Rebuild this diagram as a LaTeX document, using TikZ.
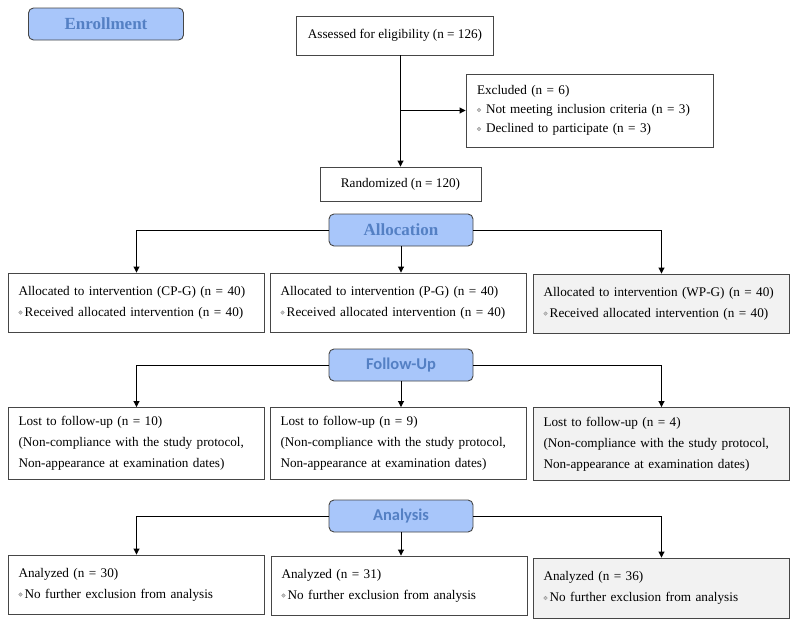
\documentclass[tikz,border=0pt]{standalone}
\usepackage{fontspec}
\setmainfont{Liberation Serif}
\newfontfamily\hdsans{Carlito}
\usetikzlibrary{arrows.meta,calc}
\definecolor{hdfill}{RGB}{168,198,250}
\definecolor{hdtext}{RGB}{84,128,196}
\definecolor{boxline}{RGB}{70,70,70}
\definecolor{grayfill}{RGB}{242,242,242}
\newcommand\bul{\tikz[baseline=-3.6pt]\draw[gray!80,fill=gray!45,line width=0.4pt] (0,0) circle (1.8pt);}
\tikzset{
  hdr/.style={draw=boxline, fill=hdfill, rounded corners=5pt, line width=0.9pt,
    minimum width=144pt, minimum height=32pt, inner sep=0pt, text=hdtext},
  hdserif/.style={hdr, font=\fontsize{17}{20}\selectfont\bfseries},
  hdsansf/.style={hdr, font=\fontsize{16.5}{20}\selectfont\hdsans\bfseries},
  box/.style={draw=boxline, line width=0.9pt, inner xsep=11pt, inner ysep=0pt,
    align=left, font=\fontsize{13.2}{21}\selectfont},
  grp/.style={box, minimum width=256pt, text width=236pt, inner xsep=10pt},
  grey/.style={fill=grayfill},
  arr/.style={draw=black, line width=0.9pt, -{Triangle[length=6pt,width=6pt]}}
}
\begin{document}
\begin{tikzpicture}[x=1pt,y=-1pt]
\useasboundingbox (0,0) rectangle (798,627);
% Enrollment
\node[hdserif, minimum width=155pt] (enr) at (106,24) {Enrollment};
\node[box, minimum width=188pt, minimum height=39pt, align=center] (ass) at (395,35.5) {Assessed for eligibility (n = 126)};
\node[box, minimum width=245pt, minimum height=73pt, text width=225pt, font=\fontsize{13.2}{19}\selectfont] (exc) at (589.5,110.5)
  {Excluded (n = 6)\\ \bul\hspace{5pt}Not meeting inclusion criteria (n = 3)\\ \bul\hspace{5pt}Declined to participate (n = 3)};
\node[box, minimum width=161pt, minimum height=34pt, align=center] (ran) at (400.5,184) {Randomized (n = 120)};
\draw[arr] (ass.south -| ran.north) -- (ran.north);
\draw[arr] (exc.west -| ran.north) -- (exc.west);
% Allocation
\node[hdserif] (alc) at (401,230) {Allocation};
\node[grp, minimum height=59pt] (a1) at (136.5,302.5) {Allocated to intervention (CP-G) (n = 40)\\ \bul\,Received allocated intervention (n = 40)};
\node[grp, minimum height=59pt] (a2) at (398.5,302.5) {Allocated to intervention (P-G) (n = 40)\\ \bul\,Received allocated intervention (n = 40)};
\node[grp, grey, minimum height=59pt] (a3) at (661.5,303.5) {Allocated to intervention (WP-G) (n = 40)\\ \bul\,Received allocated intervention (n = 40)};
\draw[arr] (alc.west) -| (a1.north);
\draw[arr] (alc.south) -- (alc.south |- a2.north);
\draw[arr] (alc.east) -| (a3.north);
% Follow-Up
\node[hdsansf] (fol) at (401,365) {Follow-Up};
\node[grp, minimum height=72pt] (f1) at (136.5,443.5) {Lost to follow-up (n = 10)\\(Non-compliance with the study protocol,\\Non-appearance at examination dates)};
\node[grp, minimum height=72pt] (f2) at (398.5,443.5) {Lost to follow-up (n = 9)\\(Non-compliance with the study protocol,\\Non-appearance at examination dates)};
\node[grp, grey, minimum height=73pt] (f3) at (661.5,444) {Lost to follow-up (n = 4)\\(Non-compliance with the study protocol,\\Non-appearance at examination dates)};
\draw[arr] (fol.west) -| (f1.north);
\draw[arr] (fol.south) -- (fol.south |- f2.north);
\draw[arr] (fol.east) -| (f3.north);
% Analysis
\node[hdsansf] (ana) at (401,516) {Analysis};
\node[grp, minimum height=59pt] (n1) at (136.5,584.5) {Analyzed (n = 30)\\ \bul\,No further exclusion from analysis};
\node[grp, minimum height=59pt] (n2) at (399.5,585.5) {Analyzed (n = 31)\\ \bul\,No further exclusion from analysis};
\node[grp, grey, minimum height=60pt] (n3) at (661.5,588) {Analyzed (n = 36)\\ \bul\,No further exclusion from analysis};
\draw[arr] (ana.west) -| (n1.north);
\draw[arr] (ana.south) -- (ana.south |- n2.north);
\draw[arr] (ana.east) -| (n3.north);
\end{tikzpicture}
\end{document}
